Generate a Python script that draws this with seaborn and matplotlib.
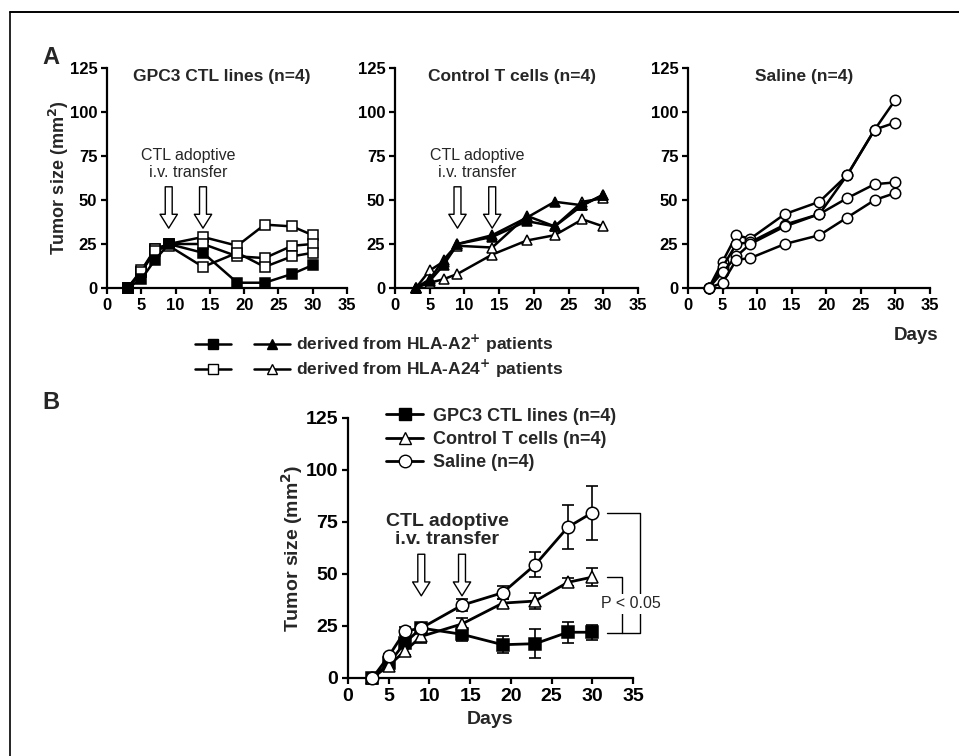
import matplotlib
matplotlib.use("Agg")
import matplotlib.pyplot as plt
from matplotlib.lines import Line2D
from matplotlib.legend_handler import HandlerTuple
import seaborn as sns
import numpy as np

# Days of measurement
days = [3, 5, 7, 9, 14, 19, 23, 27, 30]

# Panel A - individual mice
# GPC3 CTL lines: filled = HLA-A2+, open = HLA-A24+
gpc3_a2 = [[0, 5, 16, 25, 20, 3, 3, 8, 13]]
gpc3_a24 = [[0, 9, 22, 25, 29, 24, 36, 35, 30],
            [0, 10, 22, 25, 25, 18, 17, 24, 25],
            [0, 9, 21, 24, 12, 20, 12, 18, 20]]
# Control T cells
ctrl_a2 = [[0, 5, 16, 25, 30, 40, 49, 47, 53],
           [0, 4, 13, 25, 29, 38, 35, 47, 53]]
ctrl_a24 = [[0, 3, 5, 8, 19, 27, 30, 39, 35],
            [0, 10, 15, 24, 23, 41, 35, 49, 51]]
# Saline
saline = [[0, 15, 30, 28, 42, 49, 64, 90, 107],
          [0, 12, 25, 26, 36, 42, 64, 90, 94],
          [0, 9, 18, 25, 35, 42, 51, 59, 60],
          [0, 3, 16, 17, 25, 30, 40, 50, 54]]

# Panel B - group means and error
gpc3_mean = [0, 7, 17, 24, 21, 16, 16.5, 22, 22]
gpc3_err = [0, 1, 2, 2, 3, 4, 7, 5, 3.5]
ctrl_mean = [0, 6, 13, 20, 26, 36, 37, 46, 48.5]
ctrl_err = [0, 1, 2, 3.3, 3, 2, 4, 2, 4.5]
sal_mean = [0, 10.5, 22.5, 24, 35, 41, 54.5, 72.5, 79.5]
sal_err = [0, 1, 2, 2, 3, 3, 6, 10.5, 13]

transfer_days = [9, 14]

sns.set_theme(style="ticks")
plt.rcParams['font.family'] = ['Liberation Sans', 'DejaVu Sans']
plt.rcParams['font.weight'] = 'bold'
plt.rcParams['axes.labelweight'] = 'bold'

W, H = 959, 756
fig = plt.figure(figsize=(W / 100, H / 100), dpi=100)


def px_axes(x0, x1, y0, y1):
    # x0,x1: pixel x of data 0/35 ; y0: pixel y of 0, y1: pixel y of 125
    return fig.add_axes([x0 / W, 1 - y0 / H, (x1 - x0) / W, (y0 - y1) / H])


def style_axes(ax, fs):
    ax.set_xlim(0, 35)
    ax.set_ylim(0, 125)
    ax.set_xticks(np.arange(0, 36, 5))
    ax.set_yticks(np.arange(0, 126, 25))
    for s in ['top', 'right']:
        ax.spines[s].set_visible(False)
    for s in ['left', 'bottom']:
        ax.spines[s].set_linewidth(1.6)
        ax.spines[s].set_color('black')
    ax.tick_params(direction='out', length=4, width=1.6, labelsize=fs,
                   colors='black', pad=3)
    for t in ax.get_xticklabels() + ax.get_yticklabels():
        t.set_fontweight('bold')
    ax.set_facecolor('white')


def draw(ax, vals, marker, filled, ms, lw=1.8):
    sns.lineplot(x=days, y=vals, ax=ax, color='black', marker=marker,
                 markersize=ms, mfc='black' if filled else 'white',
                 mec='black', mew=1.1, lw=lw, errorbar=None, clip_on=False,
                 zorder=3)


def arrows(ax, top, bottom, scale=10):
    for d in transfer_days:
        ax.annotate('', xy=(d, bottom), xytext=(d, top),
                    arrowprops=dict(arrowstyle='simple,head_length=1.0,head_width=1.25,tail_width=0.5',
                                    fc='white', ec='black', lw=1.0,
                                    shrinkA=0, shrinkB=0, mutation_scale=scale))


# ---------------- Panel A ----------------
ax1 = px_axes(107, 347, 288, 68)
ax2 = px_axes(395, 638, 288, 68)
ax3 = px_axes(688, 930, 288, 68)

for v in gpc3_a24:
    draw(ax1, v, 's', False, 6.5)
for v in gpc3_a2:
    draw(ax1, v, 's', True, 6.5)
for v in ctrl_a24:
    draw(ax2, v, '^', False, 7)
for v in ctrl_a2:
    draw(ax2, v, '^', True, 7)
for v in saline:
    draw(ax3, v, 'o', False, 7.5)

titles = ['GPC3 CTL lines (n=4)', 'Control T cells (n=4)', 'Saline (n=4)']
for ax, t in zip([ax1, ax2, ax3], titles):
    style_axes(ax, 12)
    ax.text(16.8, 120, t, ha='center', va='center', fontsize=12.5,
            fontweight='bold')
    ax.set_xlabel('')
    ax.set_ylabel('')

for ax in [ax1, ax2]:
    ax.text(11.9, 70.5, 'CTL adoptive\ni.v. transfer', ha='center',
            va='center', fontsize=11.5, fontweight='normal', linespacing=1.1)
    arrows(ax, 57.5, 34)

ax1.set_ylabel('Tumor size (mm$^\\mathbf{2}$)', fontsize=13, fontweight='bold')
ax1.yaxis.set_label_coords(-0.15, 0.5)
ax3.set_xlabel('Days', fontsize=13.5, fontweight='bold', ha='right')
ax3.xaxis.set_label_coords(1.035, -0.175)

# legend for panel A: square and triangle handles share a row
def mk(marker, filled, ms):
    return Line2D([], [], color='black', lw=1.8, marker=marker, ms=ms,
                  mfc='black' if filled else 'white', mec='black')


hA = [(mk('s', True, 6.5), mk('^', True, 7)),
      (mk('s', False, 6.5), mk('^', False, 7))]
lA = ['derived from HLA-A2$^\\mathbf{+}$ patients',
      'derived from HLA-A24$^\\mathbf{+}$ patients']
fig.legend(hA, lA, loc='upper left', bbox_to_anchor=(195 / W, 1 - 333 / H),
           frameon=False, fontsize=12.5, handlelength=5.5, handletextpad=0.3,
           labelspacing=0.15, borderpad=0, borderaxespad=0,
           handler_map={tuple: HandlerTuple(ndivide=None, pad=1.35)})

# ---------------- Panel B ----------------
axB = px_axes(348, 633, 678, 418)
for m, e in [(gpc3_mean, gpc3_err), (ctrl_mean, ctrl_err), (sal_mean, sal_err)]:
    axB.errorbar(days, m, yerr=e, fmt='none', ecolor='black', elinewidth=1.2,
                 capsize=4.5, capthick=1.2, zorder=2, clip_on=False)
draw(axB, gpc3_mean, 's', True, 8.5, lw=2.0)
draw(axB, ctrl_mean, '^', False, 9, lw=2.0)
draw(axB, sal_mean, 'o', False, 9, lw=2.0)
style_axes(axB, 14)

hB = [Line2D([], [], color='black', lw=2.0, marker='s', ms=8.5, mfc='black', mec='black'),
      Line2D([], [], color='black', lw=2.0, marker='^', ms=9, mfc='white', mec='black'),
      Line2D([], [], color='black', lw=2.0, marker='o', ms=9, mfc='white', mec='black')]
axB.legend(hB, titles, loc='upper left', bbox_to_anchor=(0.135, 1.04),
           frameon=False, fontsize=13, handlelength=2.0, handletextpad=0.55,
           labelspacing=0.35, borderpad=0, borderaxespad=0)

axB.text(12.2, 71, 'CTL adoptive\ni.v. transfer', ha='center', va='center',
         fontsize=14, fontweight='bold', linespacing=1.1)
arrows(axB, 59.5, 39.5)

# significance brackets
axB.plot([31.8, 35.9, 35.9, 31.8], [79.5, 79.5, 21.5, 21.5], color='black',
         lw=1.0, clip_on=False)
axB.plot([31.8, 33.6, 33.6], [48.7, 48.7, 21.5], color='black', lw=1.0,
         clip_on=False)
axB.text(34.7, 35.6, 'P < 0.05', ha='center', va='center', fontsize=11.5,
         fontweight='normal', bbox=dict(fc='white', ec='none', pad=1.5),
         clip_on=False)

axB.set_xlabel('Days', fontsize=14, fontweight='bold')
axB.xaxis.set_label_coords(0.5, -0.125)
axB.set_ylabel('Tumor size (mm$^\\mathbf{2}$)', fontsize=14, fontweight='bold')
axB.yaxis.set_label_coords(-0.15, 0.5)

# panel letters
fig.text(42 / W, 1 - 46 / H, 'A', fontsize=17, fontweight='bold', va='top')
fig.text(42 / W, 1 - 391 / H, 'B', fontsize=17, fontweight='bold', va='top')

# figure frame (top and left edges)
fig.add_artist(Line2D([10 / W, 1], [1 - 11.5 / H, 1 - 11.5 / H],
                      transform=fig.transFigure, color='black', lw=1.4))
fig.add_artist(Line2D([10 / W, 10 / W], [0, 1 - 11.5 / H],
                      transform=fig.transFigure, color='black', lw=1.2))

fig.savefig('out.png', dpi=100, facecolor='white')
